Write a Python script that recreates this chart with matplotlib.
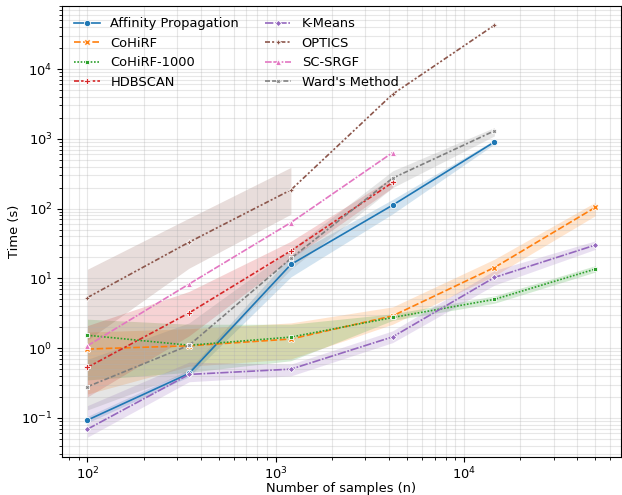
import numpy as np
import matplotlib
matplotlib.use("Agg")
import matplotlib.pyplot as plt
from matplotlib.ticker import NullFormatter

plt.rcParams['font.size'] = 9.4

# sample sizes
n_samples = [100, 347, 1206, 4189, 14552, 50000]

methods = ["Affinity Propagation", "CoHiRF", "CoHiRF-1000", "HDBSCAN",
           "K-Means", "OPTICS", "SC-SRGF", "Ward's Method"]

nan = np.nan
# mean times (s), nan = not run
affinity = [0.093, 0.434, 15.8, 112, 900, nan]
cohirf = [0.97, 1.08, 1.35, 2.9, 14.3, 104]
cohirf_1000 = [1.53, 1.1, 1.44, 2.75, 5.0, 13.6]
hdbscan = [0.53, 3.2, 24.8, 237, nan, nan]
kmeans = [0.069, 0.42, 0.50, 1.45, 10.3, 30]
optics = [5.3, 33, 185, 4360, 42400, nan]
sc_srgf = [1.08, 8.3, 63, 635, nan, nan]
ward = [0.28, 1.1, 19.3, 273, 1300, nan]

# confidence bands (lower, upper)
affinity_lo = [0.085, 0.39, 10.5, 84, 840, nan]
affinity_hi = [0.105, 0.49, 21, 135, 960, nan]
cohirf_lo = [0.22, 0.55, 0.7, 2.2, 10.9, 79]
cohirf_hi = [1.7, 1.9, 2.3, 3.9, 18.8, 123]
cohirf_1000_lo = [0.35, 0.45, 0.66, 2.5, 4.4, 12.3]
cohirf_1000_hi = [2.6, 2.2, 2.2, 3.1, 5.6, 15.2]
hdbscan_lo = [0.2, 1.5, 19, 200, nan, nan]
hdbscan_hi = [2.1, 6.5, 34, 280, nan, nan]
kmeans_lo = [0.053, 0.33, 0.40, 1.2, 8.0, 26]
kmeans_hi = [0.15, 0.63, 0.59, 1.77, 13, 34.4]
optics_lo = [1.3, 14, 83, nan, nan, nan]
optics_hi = [13.5, 73, 389, nan, nan, nan]
sc_srgf_lo = [nan] * 6
sc_srgf_hi = [nan] * 6
ward_lo = [0.13, 0.45, 13.5, 200, 1100, nan]
ward_hi = [0.69, 2.3, 26, 347, 1450, nan]

means = [affinity, cohirf, cohirf_1000, hdbscan, kmeans, optics, sc_srgf, ward]
lows = [affinity_lo, cohirf_lo, cohirf_1000_lo, hdbscan_lo, kmeans_lo, optics_lo, sc_srgf_lo, ward_lo]
highs = [affinity_hi, cohirf_hi, cohirf_1000_hi, hdbscan_hi, kmeans_hi, optics_hi, sc_srgf_hi, ward_hi]

# seaborn-like default markers and dashes
markers = ["o", "X", (4, 0, 45), "P", (4, 0, 0), (4, 1, 0), "^", (4, 1, 45)]
dashes = [(None, None), (4, 1.5), (1, 1), (3, 1.25, 1.5, 1.25), (5, 1, 1, 1),
          (3, 1.25, 1.25, 1.25, 1.25, 1.25), (4, 1, 4, 1, 1, 1),
          (3, 1.25, 3, 1.25, 1.25, 1.25)]
colors = plt.get_cmap("tab10").colors

fig = plt.figure(figsize=(6.22, 4.95), dpi=100)
ax = fig.add_axes([62 / 622, 1 - 457 / 495, (620.7 - 62) / 622, (457 - 5.5) / 495])

x = np.array(n_samples, dtype=float)
for i, name in enumerate(methods):
    y = np.array(means[i], dtype=float)
    lo = np.array(lows[i], dtype=float)
    hi = np.array(highs[i], dtype=float)
    ax.fill_between(x, lo, hi, color=colors[i], alpha=0.2, linewidth=0)
    ok = ~np.isnan(y)
    line, = ax.plot(x[ok], y[ok], color=colors[i], lw=1.2, marker=markers[i],
                    markersize=4.5, markeredgecolor='w', markeredgewidth=0.6,
                    label=name)
    if dashes[i][0] is not None:
        line.set_dashes(dashes[i])

ax.set_xscale('log')
ax.set_yscale('log')
ax.set_xticks([1e2, 1e3, 1e4])
ax.set_yticks([1e-1, 1e0, 1e1, 1e2, 1e3, 1e4])
ax.xaxis.set_minor_formatter(NullFormatter())
ax.yaxis.set_minor_formatter(NullFormatter())
ax.set_xlim(10 ** 1.865, 10 ** 4.834)
ax.set_ylim(10 ** -1.56, 10 ** 4.91)
ax.grid(True, which='both', alpha=0.3)
ax.tick_params(axis='x', which='major', pad=2.5)
ax.set_xlabel('Number of samples (n)', labelpad=0)
ax.set_ylabel('Time (s)', labelpad=0)
ax.legend(loc='upper left', ncol=2, frameon=False)

fig.savefig('out.png', dpi=100)
